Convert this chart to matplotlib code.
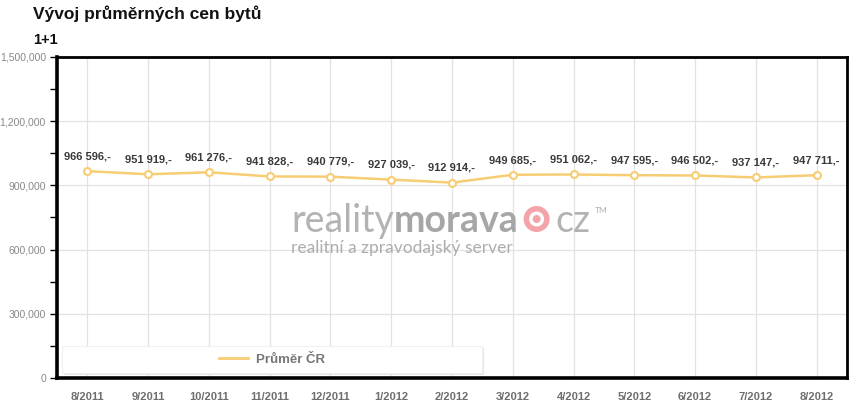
import matplotlib.pyplot as plt
from matplotlib.patches import Rectangle, Circle
from matplotlib.ticker import MultipleLocator, FuncFormatter

plt.rcParams['font.family'] = ['Liberation Sans', 'DejaVu Sans']

months = ['8/2011', '9/2011', '10/2011', '11/2011', '12/2011', '1/2012', '2/2012',
          '3/2012', '4/2012', '5/2012', '6/2012', '7/2012', '8/2012']
prices = [966596, 951919, 961276, 941828, 940779, 927039, 912914,
          949685, 951062, 947595, 946502, 937147, 947711]
series_name = 'Průměr ČR'

line_col = '#f6cd73'

fig = plt.figure(figsize=(8.6, 4.12), dpi=100)
ax = fig.add_axes([57/860, 1 - 378/412, 790/860, 321/412])

x = list(range(len(months)))
ax.plot(x, prices, color=line_col, linewidth=1.8, marker='o', markersize=5,
        markerfacecolor='white', markeredgecolor=line_col, markeredgewidth=1.5,
        label=series_name, zorder=4)

for xi, v in zip(x, prices):
    lbl = f'{v:,}'.replace(',', ' ') + ',-'
    ax.annotate(lbl, (xi, v), xytext=(0, 7), textcoords='offset points',
                ha='center', va='bottom', fontsize=8, fontweight='bold',
                color='#3a3a3a', zorder=5)

ax.set_xlim(-0.5, len(months) - 0.5)
ax.set_ylim(0, 1500000)
ax.set_xticks(x)
ax.set_xticklabels(months)
ax.yaxis.set_major_locator(MultipleLocator(300000))
ax.yaxis.set_minor_locator(MultipleLocator(150000))
ax.yaxis.set_major_formatter(FuncFormatter(lambda v, p: f'{int(v):,}'))

ax.grid(True, which='major', color='#e2e2e2', linewidth=0.9, zorder=0)
ax.set_axisbelow(True)
for s in ax.spines.values():
    s.set_linewidth(2)
    s.set_color('black')
ax.spines['bottom'].set_linewidth(2.6)
ax.spines['left'].set_linewidth(2.6)

ax.tick_params(axis='x', length=0, pad=10, labelsize=8, labelcolor='#6e6e6e')
for t in ax.get_xticklabels():
    t.set_fontweight('bold')
ax.tick_params(axis='y', which='major', length=5, width=1, pad=3,
               labelsize=7.5, labelcolor='#888888')
ax.tick_params(axis='y', which='minor', length=5, width=1)

# watermark
renderer = fig.canvas.get_renderer()
base_y = 1 - 232/412
t1 = fig.text(291/860, base_y, 'reality', fontsize=27, color='#b3b3b3',
              family='Lato', va='baseline', zorder=1)
bb1 = t1.get_window_extent(renderer)
t2 = fig.text(bb1.x1 / 860, base_y, 'morava', fontsize=27, color='#a6a6a6',
              family='Lato', fontweight='bold', va='baseline')
bb = t2.get_window_extent(renderer)
cxp, cyp = bb.x1 + 18, 412 - 219
for r, c in [(13, '#f4a3a8'), (7.5, 'white'), (4, '#f4a3a8')]:
    fig.patches.append(Circle((cxp, cyp), r, transform=None, facecolor=c, edgecolor='none'))
t3 = fig.text((cxp + 19) / 860, base_y, 'cz', fontsize=27, color='#b3b3b3',
              family='Lato', va='baseline')
bb3 = t3.get_window_extent(renderer)
fig.text((bb3.x1 + 4) / 860, 1 - 213/412, 'TM', fontsize=6, color='#b3b3b3', family='Lato')
fig.text(291/860, 1 - 253/412, 'realitní a zpravodajský server', fontsize=12.5,
         color='#adadad', family='Lato', va='baseline')

# legend box
to_ax = lambda px, py: ((px - 57) / 790, (378 - py) / 321)
a0 = to_ax(62, 373)
a1 = to_ax(482, 346)
sh = Rectangle((a0[0] + 2/790, a0[1] - 2/321), a1[0] - a0[0], a1[1] - a0[1],
               transform=ax.transAxes, facecolor='#e6e6e6', edgecolor='none', zorder=5)
box = Rectangle(a0, a1[0] - a0[0], a1[1] - a0[1], transform=ax.transAxes,
                facecolor='white', edgecolor='#f0f0f0', linewidth=0.8, zorder=6)
ax.add_patch(sh)
ax.add_patch(box)
leg = ax.legend(loc='center', bbox_to_anchor=((a0[0] + a1[0]) / 2, (a0[1] + a1[1]) / 2),
                frameon=False, fontsize=9.5, handlelength=2.2, handletextpad=0.6,
                labelcolor='#777777')
leg.get_lines()[0].set_marker('')
leg.get_lines()[0].set_linewidth(2)
leg.set_zorder(7)
for t in leg.get_texts():
    t.set_fontweight('bold')

fig.text(33/860, 1 - 14/412, 'Vývoj průměrných cen bytů', fontsize=12.5,
         fontweight='bold', color='#111111', va='center')
fig.text(33/860, 1 - 40/412, '1+1', fontsize=10.5, fontweight='bold',
         color='#111111', va='center')

fig.savefig('out.png', dpi=100)
